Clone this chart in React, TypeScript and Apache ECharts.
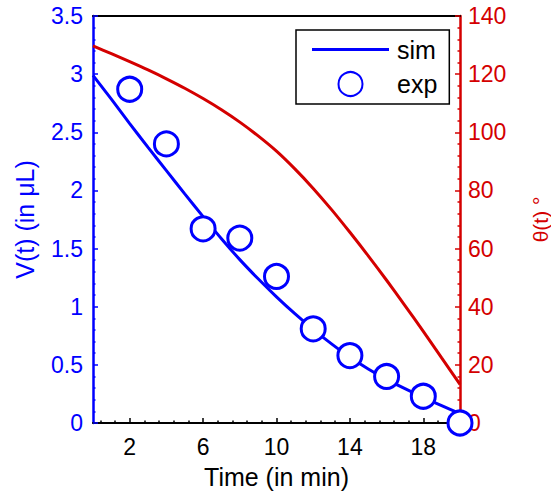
import React, { useEffect, useRef } from "react";
import * as echarts from "echarts";

// ---- data ----
const simTime = [0, 1, 2, 3, 4, 5, 6, 7, 8, 9, 10, 11, 12, 13, 14, 15, 16, 17, 18, 19, 20];
const simVolume = [2.99, 2.785, 2.575, 2.37, 2.17, 1.97, 1.775, 1.585, 1.405, 1.24, 1.085, 0.94, 0.805, 0.68, 0.565, 0.465, 0.375, 0.295, 0.22, 0.15, 0.08];
const simAngle = [129.7, 127.05, 124.3, 121.45, 118.4, 115.15, 111.6, 107.75, 103.5, 98.75, 93.5, 87.4, 80.7, 73.4, 65.6, 57.5, 49.1, 40.4, 31.5, 22.4, 13.3];
const expTime = [2, 4, 6, 8, 10, 12, 14, 16, 18, 20];
const expVolume = [2.87, 2.4, 1.67, 1.59, 1.26, 0.81, 0.58, 0.4, 0.23, 0.0];
const xMajorTicks = [2, 6, 10, 14, 18];
const xMinorTicks = [0.4, 1.2, 2.8, 3.6, 4.4, 5.2, 6.8, 7.6, 8.4, 9.2, 10.8, 11.6, 12.4, 13.2, 14.8, 15.6, 16.4, 17.2, 18.8, 19.6];

const BLUE = "#0000ff";
const RED = "#d40000";
const FONT = "'Liberation Sans', Arial, Helvetica, sans-serif";
const FS = 23;
const TITLE_FS = 25;

export default function App() {
  const ref = useRef<HTMLDivElement>(null);
  useEffect(() => {
    if (!ref.current) return;
    const chart = echarts.init(ref.current, undefined, { renderer: "svg" });
    chart.setOption({
      animation: false,
      backgroundColor: "#ffffff",
      textStyle: { fontFamily: FONT },
      grid: { left: 93, right: 91, top: 16, bottom: 73, containLabel: false, outerBoundsMode: "none" },
      legend: {
        data: [
          { name: "sim", icon: "path://M0,0 H77 V3 H0 Z" },
          { name: "exp" },
        ],
        orient: "vertical",
        left: 296,
        top: 30,
        backgroundColor: "#ffffff",
        borderColor: "#000000",
        borderWidth: 1.5,
        borderRadius: 0,
        padding: [7, 12, 7, 16],
        itemWidth: 77,
        itemHeight: 24,
        itemGap: 9,
        textStyle: { fontSize: TITLE_FS, color: "#000", fontFamily: FONT, padding: [0, 0, 0, 3] },
      },
      xAxis: [
        {
          type: "value",
          min: 0,
          max: 20,
          position: "bottom",
          axisLine: { show: true, onZero: false, lineStyle: { color: "#000", width: 2 } },
          axisTick: { show: true, inside: true, length: 5, customValues: xMajorTicks, lineStyle: { color: "#000", width: 1.5 } },
          axisLabel: { customValues: xMajorTicks, color: "#000", fontSize: FS, fontFamily: FONT, margin: 12 },
          splitLine: { show: false },
          name: "Time (in min)",
          nameLocation: "middle",
          nameGap: 41,
          nameTextStyle: { fontSize: TITLE_FS, color: "#000", fontFamily: FONT },
        },
        {
          type: "value",
          min: 0,
          max: 20,
          position: "bottom",
          axisLine: { show: false },
          axisTick: { show: true, inside: true, length: 2.5, customValues: xMinorTicks, lineStyle: { color: "#000", width: 1.5 } },
          axisLabel: { show: false },
          splitLine: { show: false },
        },
        {
          type: "value",
          min: 0,
          max: 20,
          position: "top",
          axisLine: { show: true, onZero: false, lineStyle: { color: "#000", width: 2 } },
          axisTick: { show: false },
          axisLabel: { show: false },
          splitLine: { show: false },
        },
      ],
      yAxis: [
        {
          type: "value",
          min: 0,
          max: 3.5,
          interval: 0.5,
          position: "left",
          axisLine: { show: true, onZero: false, lineStyle: { color: BLUE, width: 2.5 } },
          axisTick: { show: true, inside: true, length: 5, lineStyle: { color: BLUE, width: 1.5 } },
          minorTick: { show: true, splitNumber: 5, length: 2.5, lineStyle: { color: BLUE, width: 1.5 } },
          axisLabel: { color: BLUE, fontSize: FS, fontFamily: FONT, margin: 10 },
          splitLine: { show: false },
          name: "V(t) (in μL)",
          nameLocation: "middle",
          nameRotate: 90,
          nameGap: 56,
          nameTextStyle: { fontSize: TITLE_FS, color: BLUE, fontFamily: FONT },
        },
        {
          type: "value",
          min: 0,
          max: 140,
          interval: 20,
          position: "right",
          axisLine: { show: true, onZero: false, lineStyle: { color: RED, width: 2.5 } },
          axisTick: { show: true, inside: true, length: 5, lineStyle: { color: RED, width: 1.5 } },
          minorTick: { show: true, splitNumber: 5, length: 2.5, lineStyle: { color: RED, width: 1.5 } },
          axisLabel: { color: RED, fontSize: FS, fontFamily: FONT, margin: 8 },
          splitLine: { show: false },
          name: "θ(t) °",
          nameLocation: "middle",
          nameRotate: 90,
          nameGap: 70,
          nameTextStyle: { fontSize: 21, lineHeight: 21, color: RED, fontFamily: FONT },
        },
      ],
      series: [
        {
          name: "sim",
          type: "line",
          xAxisIndex: 0,
          yAxisIndex: 0,
          data: simTime.map((t, i) => [t, simVolume[i]]),
          symbol: "none",
          smooth: 0.3,
          lineStyle: { color: BLUE, width: 3 },
          itemStyle: { color: BLUE },
          z: 2,
        },
        {
          name: "theta",
          type: "line",
          xAxisIndex: 0,
          yAxisIndex: 1,
          data: simTime.map((t, i) => [t, simAngle[i]]),
          symbol: "none",
          smooth: 0.3,
          lineStyle: { color: RED, width: 3 },
          itemStyle: { color: RED },
          z: 2,
        },
        {
          name: "exp",
          type: "scatter",
          xAxisIndex: 0,
          yAxisIndex: 0,
          data: expTime.map((t, i) => [t, expVolume[i]]),
          symbol: "circle",
          symbolSize: 24,
          itemStyle: { color: "#ffffff", borderColor: BLUE, borderWidth: 3, opacity: 1 },
          z: 3,
        },
      ],
    });
    return () => chart.dispose();
  }, []);
  return (
    <div
      ref={ref}
      style={{ position: "fixed", left: 0, top: 0, width: 551, height: 496 }}
    />
  );
}
